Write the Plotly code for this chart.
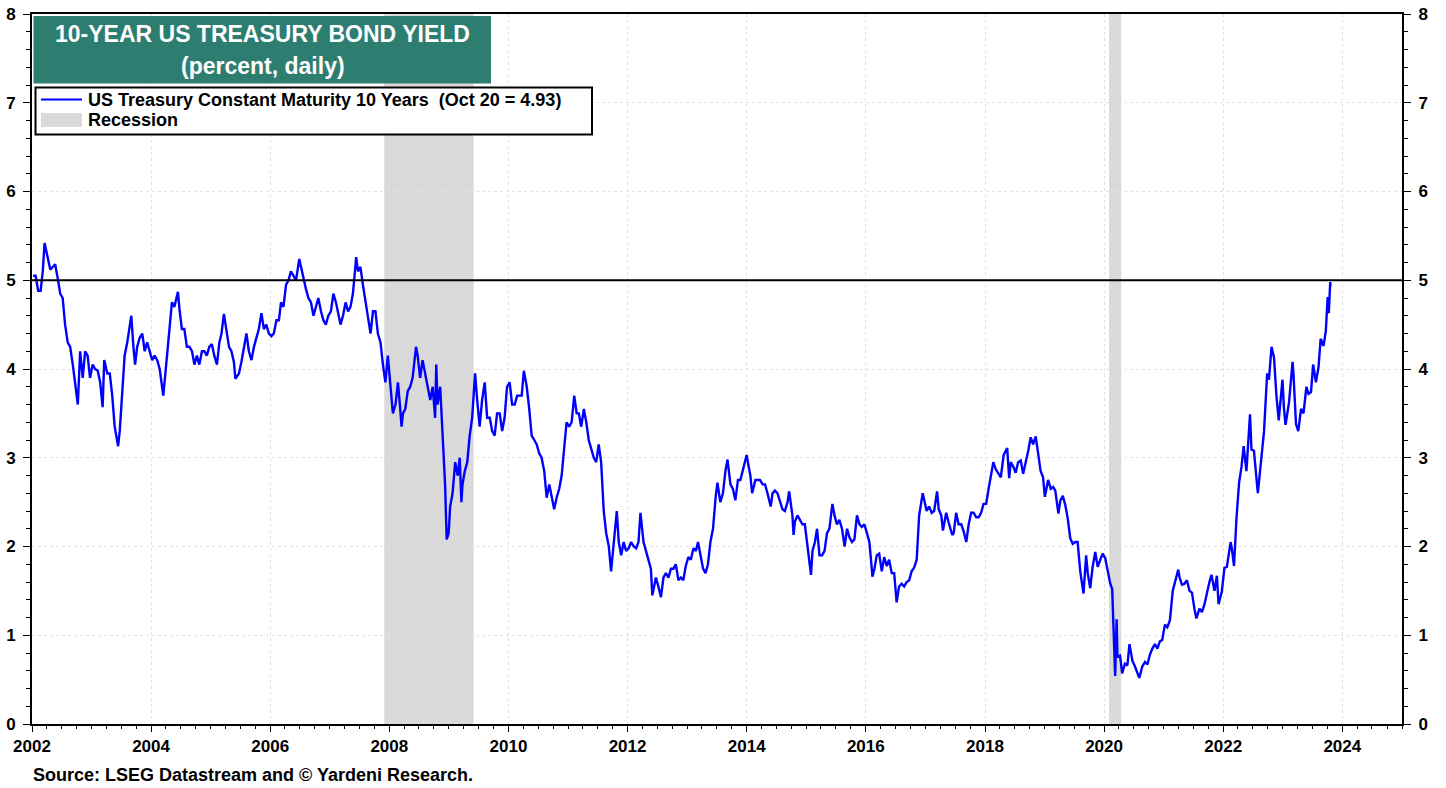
import plotly.graph_objects as go

# ---------------- DATA ----------------
dates = (
    ["2002-01-08","2002-01-23","2002-02-08","2002-02-23","2002-03-08","2002-03-19","2002-04-08","2002-04-23","2002-05-08","2002-05-23","2002-06-08","2002-06-23","2002-07-08","2002-07-23","2002-08-08","2002-08-23","2002-09-08","2002-09-23","2002-10-09","2002-10-23","2002-11-08","2002-11-23","2002-12-08","2002-12-23"]
    + ["2003-01-08","2003-01-23","2003-02-08","2003-02-23","2003-03-10","2003-03-20","2003-04-08","2003-04-23","2003-05-08","2003-05-23","2003-06-13","2003-06-23","2003-07-08","2003-07-23","2003-08-08","2003-09-02","2003-09-15","2003-09-25","2003-10-08","2003-10-23","2003-11-08","2003-11-23","2003-12-08","2003-12-23"]
    + ["2004-01-08","2004-01-23","2004-02-08","2004-02-23","2004-03-08","2004-03-16","2004-04-08","2004-04-23","2004-05-08","2004-05-23","2004-06-14","2004-06-23","2004-07-08","2004-07-23","2004-08-08","2004-08-23","2004-09-08","2004-09-23","2004-10-08","2004-10-23","2004-11-08","2004-11-23","2004-12-08","2004-12-23"]
    + ["2005-01-08","2005-01-23","2005-02-08","2005-02-23","2005-03-08","2005-03-23","2005-04-08","2005-04-23","2005-05-08","2005-05-23","2005-06-01","2005-06-23","2005-07-08","2005-07-23","2005-08-08","2005-08-23","2005-09-08","2005-09-23","2005-10-08","2005-10-23","2005-11-08","2005-11-23","2005-12-08","2005-12-23"]
    + ["2006-01-08","2006-01-23","2006-02-08","2006-02-23","2006-03-08","2006-03-23","2006-04-08","2006-04-23","2006-05-08","2006-05-23","2006-06-08","2006-06-28","2006-07-08","2006-07-23","2006-08-08","2006-08-23","2006-09-08","2006-09-23","2006-10-08","2006-10-23","2006-11-08","2006-11-23","2006-12-08","2006-12-23"]
    + ["2007-01-08","2007-01-23","2007-02-08","2007-02-23","2007-03-08","2007-03-23","2007-04-08","2007-04-23","2007-05-08","2007-05-23","2007-06-12","2007-06-23","2007-07-08","2007-07-23","2007-08-08","2007-08-23","2007-09-08","2007-09-23","2007-10-08","2007-10-23","2007-11-08","2007-11-23","2007-12-08","2007-12-23"]
    + ["2008-01-08","2008-01-23","2008-02-08","2008-02-23","2008-03-08","2008-03-16","2008-03-25","2008-04-08","2008-04-23","2008-05-08","2008-05-23","2008-06-13","2008-06-23","2008-07-08","2008-07-23","2008-08-08","2008-08-23","2008-09-08","2008-09-23","2008-10-08","2008-10-15","2008-10-23","2008-11-08","2008-11-23","2008-12-08","2008-12-18","2008-12-30"]
    + ["2009-01-08","2009-01-23","2009-02-08","2009-02-23","2009-03-08","2009-03-18","2009-03-25","2009-04-08","2009-04-23","2009-05-08","2009-05-23","2009-06-10","2009-06-23","2009-07-08","2009-07-23","2009-08-08","2009-08-23","2009-09-08","2009-09-23","2009-10-08","2009-10-23","2009-11-08","2009-11-23","2009-12-08","2009-12-23"]
    + ["2010-01-08","2010-01-23","2010-02-08","2010-02-23","2010-03-08","2010-03-23","2010-04-05","2010-04-23","2010-05-08","2010-05-23","2010-06-08","2010-06-23","2010-07-08","2010-07-23","2010-08-08","2010-08-23","2010-09-08","2010-09-23","2010-10-08","2010-10-23","2010-11-08","2010-11-23","2010-12-08","2010-12-23"]
    + ["2011-01-08","2011-01-23","2011-02-08","2011-02-23","2011-03-08","2011-03-23","2011-04-08","2011-04-23","2011-05-08","2011-05-23","2011-06-08","2011-06-23","2011-07-08","2011-07-23","2011-08-08","2011-08-23","2011-09-08","2011-09-22","2011-10-08","2011-10-27","2011-11-08","2011-11-23","2011-12-08","2011-12-23"]
    + ["2012-01-08","2012-01-23","2012-02-08","2012-02-23","2012-03-08","2012-03-20","2012-04-08","2012-04-23","2012-05-08","2012-05-23","2012-06-01","2012-06-23","2012-07-08","2012-07-24","2012-08-08","2012-08-23","2012-09-08","2012-09-23","2012-10-08","2012-10-23","2012-11-08","2012-11-23","2012-12-08","2012-12-23"]
    + ["2013-01-08","2013-01-23","2013-02-08","2013-02-23","2013-03-08","2013-03-23","2013-04-08","2013-04-23","2013-05-08","2013-05-23","2013-06-08","2013-06-24","2013-07-05","2013-07-23","2013-08-08","2013-08-23","2013-09-05","2013-09-23","2013-10-08","2013-10-23","2013-11-08","2013-11-23","2013-12-08","2013-12-31"]
    + ["2014-01-08","2014-01-23","2014-02-03","2014-02-23","2014-03-08","2014-03-23","2014-04-08","2014-04-23","2014-05-08","2014-05-28","2014-06-08","2014-06-23","2014-07-08","2014-07-23","2014-08-08","2014-08-23","2014-09-08","2014-09-18","2014-10-08","2014-10-15","2014-10-23","2014-11-08","2014-11-23","2014-12-08","2014-12-23"]
    + ["2015-01-08","2015-01-30","2015-02-08","2015-02-23","2015-03-08","2015-03-23","2015-04-08","2015-04-23","2015-05-08","2015-05-23","2015-06-10","2015-06-23","2015-07-08","2015-07-23","2015-08-08","2015-08-24","2015-09-08","2015-09-23","2015-10-08","2015-10-23","2015-11-08","2015-11-23","2015-12-08","2015-12-23"]
    + ["2016-01-08","2016-01-23","2016-02-11","2016-02-23","2016-03-08","2016-03-23","2016-04-08","2016-04-23","2016-05-08","2016-05-23","2016-06-08","2016-06-23","2016-07-08","2016-07-23","2016-08-08","2016-08-23","2016-09-08","2016-09-23","2016-10-08","2016-10-23","2016-11-08","2016-11-23","2016-12-15","2016-12-23"]
    + ["2017-01-08","2017-01-23","2017-02-08","2017-02-23","2017-03-13","2017-03-23","2017-04-08","2017-04-18","2017-05-08","2017-05-23","2017-06-14","2017-06-23","2017-07-08","2017-07-23","2017-08-08","2017-08-23","2017-09-08","2017-09-23","2017-10-08","2017-10-23","2017-11-08","2017-11-23","2017-12-08","2017-12-23"]
    + ["2018-01-08","2018-01-23","2018-02-08","2018-02-21","2018-03-08","2018-03-23","2018-04-08","2018-04-25","2018-05-17","2018-05-29","2018-06-08","2018-06-23","2018-07-08","2018-07-23","2018-08-08","2018-08-23","2018-09-08","2018-09-23","2018-10-08","2018-10-23","2018-11-08","2018-11-23","2018-12-08","2018-12-23"]
    + ["2019-01-03","2019-01-23","2019-02-08","2019-02-23","2019-03-08","2019-03-27","2019-04-08","2019-04-23","2019-05-08","2019-05-23","2019-06-08","2019-06-23","2019-07-08","2019-07-23","2019-08-08","2019-08-28","2019-09-13","2019-09-23","2019-10-08","2019-10-23","2019-11-08","2019-11-23","2019-12-08","2019-12-23"]
    + ["2020-01-08","2020-01-23","2020-02-08","2020-02-20","2020-03-09","2020-03-18","2020-03-23","2020-04-08","2020-04-21","2020-05-08","2020-05-23","2020-06-05","2020-06-23","2020-07-08","2020-07-23","2020-08-04","2020-08-23","2020-09-08","2020-09-23","2020-10-08","2020-10-23","2020-11-08","2020-11-23","2020-12-08","2020-12-23"]
    + ["2021-01-08","2021-01-23","2021-02-08","2021-02-25","2021-03-08","2021-03-31","2021-04-08","2021-04-23","2021-05-08","2021-05-23","2021-06-08","2021-06-23","2021-07-08","2021-07-20","2021-08-08","2021-08-23","2021-09-08","2021-09-28","2021-10-08","2021-10-21","2021-11-08","2021-11-23","2021-12-03","2021-12-23"]
    + ["2022-01-08","2022-01-23","2022-02-08","2022-02-15","2022-02-23","2022-03-08","2022-03-23","2022-04-08","2022-04-23","2022-05-06","2022-05-23","2022-06-14","2022-06-23","2022-07-08","2022-08-01","2022-08-23","2022-09-08","2022-09-27","2022-10-08","2022-10-24","2022-11-08","2022-11-23","2022-12-07","2022-12-30"]
    + ["2023-01-08","2023-01-18","2023-02-08","2023-03-02","2023-03-08","2023-03-23","2023-04-06","2023-04-23","2023-05-08","2023-05-26","2023-06-08","2023-06-23","2023-07-06","2023-07-23","2023-08-08","2023-08-21","2023-09-08","2023-09-22","2023-10-03","2023-10-10","2023-10-19","2023-10-20"]
)

yields = (
    [5.05,5.05,4.88,4.88,5.10,5.42,5.25,5.12,5.15,5.18,5.02,4.85,4.80,4.50,4.30,4.25,4.05,3.80,3.60,4.20,3.90,4.20,4.15,3.90]
    + [4.05,4.00,3.98,3.85,3.57,4.10,3.95,3.95,3.70,3.35,3.13,3.30,3.70,4.15,4.30,4.60,4.25,4.05,4.25,4.35,4.40,4.20,4.30,4.20]
    + [4.10,4.15,4.10,4.00,3.80,3.70,4.15,4.45,4.75,4.70,4.87,4.68,4.45,4.45,4.25,4.25,4.20,4.05,4.15,4.05,4.20,4.20,4.15,4.25]
    + [4.28,4.15,4.05,4.30,4.40,4.62,4.45,4.25,4.20,4.08,3.89,3.95,4.08,4.25,4.40,4.20,4.10,4.25,4.35,4.45,4.63,4.45,4.50,4.40]
    + [4.37,4.40,4.55,4.55,4.75,4.70,4.95,5.00,5.10,5.05,5.00,5.24,5.15,5.05,4.90,4.80,4.75,4.60,4.70,4.80,4.65,4.55,4.50,4.60]
    + [4.65,4.85,4.75,4.60,4.50,4.60,4.75,4.65,4.70,4.85,5.26,5.10,5.15,4.95,4.75,4.60,4.40,4.65,4.65,4.40,4.30,4.05,3.85,4.15]
    + [3.85,3.50,3.60,3.85,3.55,3.35,3.50,3.55,3.75,3.80,3.90,4.25,4.15,3.90,4.10,3.95,3.80,3.65,3.80,3.45,4.05,3.60,3.80,3.20,2.70,2.08,2.15]
    + [2.45,2.60,2.95,2.80,3.00,2.50,2.70,2.85,2.95,3.25,3.45,3.95,3.65,3.35,3.65,3.85,3.45,3.45,3.30,3.25,3.50,3.50,3.30,3.45,3.80]
    + [3.85,3.60,3.60,3.70,3.70,3.70,3.98,3.80,3.55,3.25,3.20,3.15,3.05,3.00,2.85,2.55,2.70,2.55,2.42,2.55,2.65,2.80,3.15,3.40]
    + [3.35,3.40,3.70,3.50,3.50,3.35,3.55,3.40,3.20,3.10,3.00,2.95,3.15,2.95,2.40,2.15,2.00,1.72,2.05,2.40,2.05,1.90,2.05,1.95]
    + [1.98,2.05,2.00,1.98,2.05,2.38,2.05,1.95,1.85,1.75,1.45,1.65,1.55,1.43,1.65,1.70,1.65,1.75,1.75,1.80,1.62,1.65,1.62,1.78]
    + [1.88,1.85,1.98,1.95,2.05,1.92,1.75,1.70,1.80,2.05,2.20,2.55,2.72,2.50,2.60,2.85,2.98,2.70,2.65,2.52,2.75,2.75,2.85,3.03]
    + [2.95,2.80,2.60,2.75,2.75,2.75,2.70,2.70,2.60,2.45,2.60,2.63,2.60,2.50,2.42,2.40,2.50,2.62,2.35,2.13,2.28,2.35,2.30,2.25,2.25]
    + [2.00,1.68,1.95,2.05,2.20,1.90,1.90,1.95,2.15,2.20,2.48,2.35,2.25,2.30,2.20,2.00,2.20,2.10,2.05,2.08,2.35,2.25,2.22,2.25]
    + [2.15,2.05,1.66,1.75,1.90,1.92,1.72,1.88,1.78,1.85,1.70,1.70,1.37,1.55,1.58,1.55,1.60,1.62,1.72,1.76,1.85,2.35,2.60,2.54]
    + [2.40,2.45,2.38,2.40,2.62,2.42,2.35,2.18,2.38,2.27,2.13,2.15,2.38,2.25,2.25,2.17,2.05,2.25,2.38,2.38,2.33,2.33,2.38,2.48]
    + [2.48,2.65,2.83,2.95,2.87,2.82,2.78,3.03,3.11,2.77,2.95,2.90,2.83,2.95,2.97,2.82,2.94,3.08,3.23,3.15,3.24,3.05,2.85,2.78]
    + [2.56,2.75,2.65,2.67,2.63,2.37,2.52,2.57,2.47,2.32,2.09,2.03,2.05,2.05,1.72,1.47,1.90,1.70,1.53,1.77,1.94,1.77,1.84,1.92]
    + [1.87,1.74,1.58,1.52,0.54,1.18,0.76,0.77,0.57,0.68,0.66,0.90,0.71,0.65,0.58,0.52,0.65,0.70,0.67,0.78,0.85,0.90,0.85,0.93,0.95]
    + [1.12,1.09,1.17,1.50,1.57,1.74,1.65,1.57,1.58,1.62,1.50,1.48,1.30,1.19,1.30,1.26,1.35,1.53,1.60,1.68,1.50,1.67,1.35,1.49]
    + [1.76,1.77,1.95,2.05,1.97,1.78,2.32,2.72,2.90,3.13,2.85,3.49,3.09,3.08,2.60,3.05,3.30,3.95,3.88,4.25,4.13,3.70,3.42,3.88]
    + [3.56,3.37,3.62,4.08,3.93,3.38,3.30,3.55,3.50,3.80,3.72,3.74,4.05,3.85,4.02,4.34,4.26,4.43,4.81,4.63,4.98,4.93]
)

recession_starts = ["2007-12-01", "2020-02-01"]
recession_ends = ["2009-06-01", "2020-04-15"]
reference_level = 5
x_range = ["2002-01-01", "2025-01-01"]
y_range = [0, 8]

series_name = "US Treasury Constant Maturity 10 Years  (Oct 20 = 4.93)"
title_line1 = "10-YEAR US TREASURY BOND YIELD"
title_line2 = "(percent, daily)"
source_text = "Source: LSEG Datastream and © Yardeni Research."

assert len(dates) == len(yields)

# ---------------- FIGURE ----------------
W, H = 1446, 788
ML, MR, MT, MB = 32, 44, 14, 64
PW, PH = W - ML - MR, H - MT - MB


def px(x):
    return (x - ML) / PW


def py(y):
    return (H - MB - y) / PH


FONT = "Arial, 'Liberation Sans', sans-serif"
BLUE = "#0000FF"
TEAL = "#2E7D71"
GREY = "#D9D9D9"
GRID = "#E2E2E2"

fig = go.Figure()
fig.add_trace(go.Scatter(
    x=dates, y=yields, mode="lines",
    line=dict(color=BLUE, width=2.4),
    name=series_name, showlegend=False, hoverinfo="x+y",
))
# invisible copy on the right-hand axis so it is drawn
fig.add_trace(go.Scatter(
    x=dates, y=yields, mode="lines", yaxis="y2",
    line=dict(color="rgba(0,0,0,0)", width=0),
    showlegend=False, hoverinfo="skip",
))

shapes = []
for s, e in zip(recession_starts, recession_ends):
    shapes.append(dict(type="rect", xref="x", yref="paper", x0=s, x1=e, y0=0, y1=1,
                       fillcolor=GREY, line=dict(width=0), layer="below"))
shapes.append(dict(type="line", xref="paper", yref="y", x0=0, x1=1,
                   y0=reference_level, y1=reference_level,
                   line=dict(color="black", width=2), layer="above"))
# title box
shapes.append(dict(type="rect", xref="paper", yref="paper",
                   x0=px(33.5), x1=px(491), y0=py(83.5), y1=py(16),
                   fillcolor=TEAL, line=dict(width=0), layer="above"))
# legend box
shapes.append(dict(type="rect", xref="paper", yref="paper",
                   x0=px(35.5), x1=px(592), y0=py(134.5), y1=py(87.5),
                   fillcolor="white", line=dict(color="black", width=2), layer="above"))
shapes.append(dict(type="line", xref="paper", yref="paper",
                   x0=px(41), x1=px(82), y0=py(99.5), y1=py(99.5),
                   line=dict(color=BLUE, width=2), layer="above"))
shapes.append(dict(type="rect", xref="paper", yref="paper",
                   x0=px(41), x1=px(82), y0=py(127), y1=py(113),
                   fillcolor=GREY, line=dict(width=0), layer="above"))

annotations = [
    dict(text=f"<b>{title_line1}</b>", xref="paper", yref="paper",
         x=px(262.5), y=py(34), xanchor="center", yanchor="middle", showarrow=False,
         font=dict(family=FONT, size=23, color="white")),
    dict(text=f"<b>{title_line2}</b>", xref="paper", yref="paper",
         x=px(262.5), y=py(66), xanchor="center", yanchor="middle", showarrow=False,
         font=dict(family=FONT, size=23, color="white")),
    dict(text=f"<b>{series_name}</b>", xref="paper", yref="paper",
         x=px(86), y=py(100), xanchor="left", yanchor="middle", showarrow=False,
         font=dict(family=FONT, size=18, color="black")),
    dict(text="<b>Recession</b>", xref="paper", yref="paper",
         x=px(86), y=py(120), xanchor="left", yanchor="middle", showarrow=False,
         font=dict(family=FONT, size=18, color="black")),
    dict(text=f"<b>{source_text}</b>", xref="paper", yref="paper",
         x=px(31), y=py(775), xanchor="left", yanchor="middle", showarrow=False,
         font=dict(family=FONT, size=18, color="black")),
]

tickfont = dict(family=FONT, size=17, color="black", weight="bold")

yaxis_common = dict(
    range=y_range, dtick=1, tick0=0,
    ticks="outside", ticklen=7, tickwidth=1, tickcolor="black",
    tickfont=tickfont, ticklabelstandoff=4,
    showline=True, linecolor="black", linewidth=2,
    minor=dict(dtick=0.2, ticks="outside", ticklen=4, tickcolor="black", showgrid=False),
    zeroline=False, fixedrange=True, automargin=False,
)

fig.update_layout(
    width=W, height=H,
    margin=dict(l=ML, r=MR, t=MT, b=MB, autoexpand=False),
    paper_bgcolor="white", plot_bgcolor="white",
    showlegend=False,
    shapes=shapes,
    annotations=annotations,
    xaxis=dict(
        type="date", range=x_range,
        tick0="2002-01-01", dtick="M24", tickformat="%Y",
        ticks="outside", ticklen=6, tickwidth=1, tickcolor="black",
        tickfont=tickfont,
        showline=True, linecolor="black", linewidth=2, mirror=True,
        showgrid=True, gridcolor=GRID, griddash="dot", gridwidth=1,
        minor=dict(dtick="M3", ticks="outside", ticklen=3, tickcolor="black", showgrid=False),
        zeroline=False, automargin=False,
    ),
    yaxis=dict(**yaxis_common, side="left",
               showgrid=True, gridcolor=GRID, griddash="dot", gridwidth=1),
    yaxis2=dict(**yaxis_common, side="right", overlaying="y", showgrid=False),
)

fig.write_html(
    "out.html",
    config={"displayModeBar": False},
    post_script="document.body.style.margin='0px';document.body.style.overflow='hidden';",
)
